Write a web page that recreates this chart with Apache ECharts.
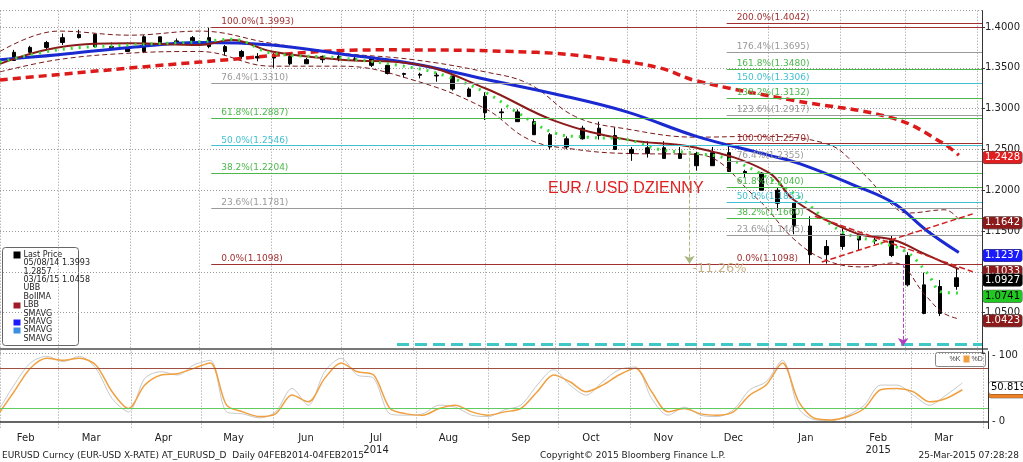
<!DOCTYPE html>
<html><head><meta charset="utf-8">
<script src="https://cdn.jsdelivr.net/npm/echarts@6/dist/echarts.min.js"></script>
<style>html,body{margin:0;padding:0;background:#fff}#c{width:1023px;height:462px}</style>
</head><body><div id="c"></div>
<script>
const weeks = ['2014-02-03','2014-02-10','2014-02-17','2014-02-24','2014-03-03','2014-03-10','2014-03-17','2014-03-24','2014-03-31','2014-04-07','2014-04-14','2014-04-21','2014-04-28','2014-05-05','2014-05-12','2014-05-19','2014-05-26','2014-06-02','2014-06-09','2014-06-16','2014-06-23','2014-06-30','2014-07-07','2014-07-14','2014-07-21','2014-07-28','2014-08-04','2014-08-11','2014-08-18','2014-08-25','2014-09-01','2014-09-08','2014-09-15','2014-09-22','2014-09-29','2014-10-06','2014-10-13','2014-10-20','2014-10-27','2014-11-03','2014-11-10','2014-11-17','2014-11-24','2014-12-01','2014-12-08','2014-12-15','2014-12-22','2014-12-29','2015-01-05','2015-01-12','2015-01-19','2015-01-26','2015-02-02','2015-02-09','2015-02-16','2015-02-23','2015-03-02','2015-03-09','2015-03-16','2015-03-23'];
const closes = [1.3590,1.3690,1.3750,1.3810,1.3870,1.3910,1.3760,1.3750,1.3700,1.3880,1.3810,1.3830,1.3870,1.3760,1.3700,1.3640,1.3620,1.3640,1.3550,1.3600,1.3640,1.3600,1.3610,1.3530,1.3430,1.3420,1.3410,1.3400,1.3240,1.3150,1.2950,1.2960,1.2840,1.2680,1.2530,1.2630,1.2760,1.2670,1.2500,1.2450,1.2520,1.2390,1.2450,1.2300,1.2460,1.2230,1.2210,1.2000,1.1840,1.1560,1.1210,1.1310,1.1460,1.1390,1.1380,1.1200,1.0840,1.0490,1.0820,1.0927];
const highs = [1.3650,1.3720,1.3770,1.3830,1.3920,1.3967,1.3920,1.3810,1.3810,1.3900,1.3880,1.3860,1.3890,1.3993,1.3780,1.3720,1.3680,1.3680,1.3680,1.3620,1.3650,1.3700,1.3650,1.3620,1.3530,1.3440,1.3440,1.3440,1.3400,1.3260,1.3200,1.3000,1.2990,1.2880,1.2700,1.2660,1.2790,1.2840,1.2770,1.2530,1.2600,1.2600,1.2530,1.2470,1.2530,1.2570,1.2250,1.2220,1.2030,1.1850,1.1680,1.1390,1.1530,1.1450,1.1450,1.1440,1.1240,1.0990,1.0900,1.1050];
const lows = [1.3480,1.3590,1.3660,1.3720,1.3780,1.3860,1.3750,1.3720,1.3700,1.3680,1.3790,1.3790,1.3780,1.3740,1.3650,1.3610,1.3580,1.3500,1.3530,1.3550,1.3560,1.3580,1.3580,1.3510,1.3420,1.3380,1.3370,1.3330,1.3220,1.3140,1.2860,1.2860,1.2840,1.2680,1.2500,1.2500,1.2620,1.2620,1.2500,1.2360,1.2400,1.2400,1.2400,1.2240,1.2300,1.2240,1.2160,1.2000,1.1750,1.1460,1.1100,1.1100,1.1270,1.1260,1.1340,1.1180,1.0820,1.0480,1.0458,1.0780];
const firstOpen = 1.3550;

const blueDates = ['2014-02-04','2014-03-01','2014-04-01','2014-05-01','2014-06-01','2014-07-01','2014-08-01','2014-09-01','2014-10-01','2014-11-01','2014-12-01','2015-01-01','2015-01-15','2015-02-07','2015-02-24','2015-03-10','2015-03-24'];
const blueVals = [1.360,1.366,1.375,1.381,1.378,1.367,1.355,1.336,1.318,1.296,1.266,1.243,1.232,1.206,1.184,1.151,1.1237];
const redDates = ['2014-02-04','2014-05-01','2014-07-17','2014-09-23','2014-10-20','2014-11-15','2014-12-01','2015-01-12','2015-02-24','2015-03-17','2015-03-24'];
const redVals = [1.335,1.357,1.372,1.369,1.362,1.350,1.334,1.310,1.288,1.258,1.2428];
const bollDates = ['2014-02-04','2014-03-01','2014-04-01','2014-05-01','2014-05-15','2014-06-01','2014-07-01','2014-08-01','2014-09-01','2014-10-01','2014-11-01','2014-12-01','2015-01-01','2015-01-12','2015-02-07','2015-02-24','2015-03-10','2015-03-24'];
const bollVals = [1.355,1.375,1.380,1.378,1.384,1.370,1.360,1.355,1.325,1.285,1.262,1.252,1.222,1.188,1.148,1.139,1.121,1.1033];
const ubbDates = ['2014-02-04','2014-03-01','2014-04-01','2014-05-01','2014-06-01','2014-07-01','2014-08-01','2014-09-01','2014-09-20','2014-10-10','2014-11-01','2014-12-01','2014-12-27','2015-01-26','2015-02-11','2015-02-24','2015-03-02','2015-03-18','2015-03-24'];
const ubbVals = [1.370,1.395,1.390,1.395,1.380,1.368,1.360,1.345,1.330,1.290,1.275,1.265,1.266,1.257,1.220,1.180,1.172,1.176,1.1642];
const lbbDates = ['2014-02-04','2014-03-01','2014-04-01','2014-05-01','2014-06-01','2014-07-01','2014-08-01','2014-09-01','2014-09-20','2014-10-10','2014-11-01','2014-12-01','2014-12-27','2015-01-12','2015-01-26','2015-02-11','2015-02-24','2015-03-10','2015-03-17','2015-03-24'];
const lbbVals = [1.345,1.360,1.368,1.370,1.352,1.352,1.335,1.300,1.262,1.250,1.245,1.244,1.190,1.140,1.114,1.106,1.111,1.070,1.050,1.0423];
const greenDates = ['2014-02-04','2014-03-01','2014-04-01','2014-05-01','2014-05-15','2014-06-01','2014-07-01','2014-08-01','2014-08-15','2014-09-01','2014-09-15','2014-10-01','2014-10-15','2014-11-01','2014-11-15','2014-12-01','2014-12-15','2015-01-01','2015-01-15','2015-02-01','2015-02-15','2015-03-01','2015-03-10','2015-03-17','2015-03-24'];
const greenVals = [1.357,1.372,1.378,1.382,1.385,1.368,1.362,1.350,1.340,1.320,1.295,1.270,1.265,1.262,1.250,1.245,1.238,1.215,1.190,1.150,1.138,1.125,1.100,1.075,1.0741];

const stochD = [10,45,80,95,92,95,85,45,20,55,70,72,80,88,25,15,8,12,40,30,65,88,75,70,20,12,10,20,25,15,10,15,20,45,70,60,45,55,70,80,45,15,20,12,10,15,40,55,88,30,5,3,8,20,48,50,45,30,35,48];
const stochK = [15,55,88,98,90,98,80,35,15,65,75,70,85,92,15,12,6,15,50,25,75,95,70,65,12,10,12,25,22,10,8,18,25,55,78,55,40,60,78,82,35,10,22,10,8,18,48,60,92,20,3,2,10,25,55,55,40,25,40,58];
const stochDates = weeks;

const fibLeft = [[100,1.3993,'#a03030'],[76.4,1.3310,'#9a9a9a'],[61.8,1.2887,'#4cb84c'],[50.0,1.2546,'#40c0d0'],[38.2,1.2204,'#4cb84c'],[23.6,1.1781,'#9a9a9a'],[0.0,1.1098,'#a03030']];
const fibRight = [[200,1.4042,'#a03030'],[176.4,1.3695,'#9a9a9a'],[161.8,1.3480,'#4cb84c'],[150.0,1.3306,'#40c0d0'],[138.2,1.3132,'#4cb84c'],[123.6,1.2917,'#9a9a9a'],[100.0,1.2570,'#a03030'],[76.4,1.2355,'#9a9a9a'],[61.8,1.2040,'#4cb84c'],[50.0,1.1853,'#40c0d0'],[38.2,1.1660,'#4cb84c'],[23.6,1.1445,'#9a9a9a'],[0.0,1.1098,'#a03030']];
const fibLeftStart = '2014-05-06', fibRightStart = '2014-12-14', xEnd = '2015-04-03';
const rightTags = [[1.2428,'#e02020','#fff'],[1.1642,'#8b1a1a','#fff'],[1.1237,'#1a1aff','#fff'],[1.0423,'#8b1a1a','#fff'],[1.0856,'#3b8fe0','#fff'],[1.0741,'#22c822','#000'],[1.1033,'#8b1a1a','#fff'],[1.0927,'#000','#fff']];
const stochTags = [[45.0,'#f08020','#000'],[50.8191,'#fff','#000']];

const z = (a,b)=>a.map((d,i)=>[d,b[i]]);
const candles = weeks.map((d,i)=>[i===0?firstOpen:closes[i-1],closes[i],lows[i],highs[i]]);

function fibLines(set,start){
  return set.map(f=>[{coord:[start,f[1]],lineStyle:{color:f[2]},label:{formatter:f[0].toFixed(1)+'%('+f[1].toFixed(4)+')',color:f[2]}},{coord:[xEnd,f[1]]}]);
}
function tagLines(tags){
  return tags.map(t=>({yAxis:t[0],lineStyle:{color:'rgba(0,0,0,0)',width:0},label:{show:true,position:'end',formatter:t[0].toFixed(4),backgroundColor:t[1],borderColor:'#444',borderWidth:0.5,borderRadius:2,color:t[2],fontSize:10,padding:[1,2],distance:1}}));
}
const months=['Jan','Feb','Mar','Apr','May','Jun','Jul','Aug','Sep','Oct','Nov','Dec'];
const chart = echarts.init(document.getElementById('c'));
const fontF = 'DejaVu Sans, Verdana, sans-serif';
chart.setOption({
  animation:false,
  backgroundColor:'#fff',
  textStyle:{fontFamily:fontF},
  grid:[{left:0,right:35,top:10.7,height:342.7},{left:0,right:35,top:351.6,height:77}],
  xAxis:[
    {type:'time',gridIndex:0,min:'2014-02-04',max:xEnd,minInterval:27*864e5,maxInterval:32*864e5,axisLabel:{show:false},axisTick:{show:false},axisLine:{show:false},splitLine:{show:true,lineStyle:{color:'#999',type:[1,2]}}},
    {type:'time',gridIndex:1,min:'2014-02-04',max:xEnd,minInterval:27*864e5,maxInterval:32*864e5,axisLabel:{show:false},axisTick:{show:false},axisLine:{show:true,lineStyle:{color:'#333',width:1.5}},splitLine:{show:true,lineStyle:{color:'#999',type:[1,2]}}},
    {type:'time',gridIndex:1,min:'2014-01-21',max:'2015-03-20',minInterval:27*864e5,maxInterval:32*864e5,position:'bottom',axisLine:{show:false},axisTick:{show:false},splitLine:{show:false},
     axisLabel:{fontSize:10,color:'#222',margin:4,lineHeight:12,formatter:v=>{const d=new Date(v);const m=months[d.getMonth()];if(d.getMonth()===6&&d.getFullYear()===2014)return m+'\n2014';if(d.getMonth()===1&&d.getFullYear()===2015)return m+'\n2015';return m;}}}
  ],
  yAxis:[
    {type:'value',gridIndex:0,position:'right',min:1.0,max:1.42,interval:0.05,axisLine:{show:true,lineStyle:{color:'#333'}},axisTick:{show:true,length:3},splitLine:{show:true,lineStyle:{color:'#999',type:[1,2]}},
     axisLabel:{fontSize:10,color:'#222',margin:3,showMaxLabel:false,formatter:v=>v<1.04?'':v.toFixed(4)}},
    {type:'value',gridIndex:1,position:'right',min:-10,max:105,interval:10,axisLine:{show:true,lineStyle:{color:'#333'}},axisTick:{show:false},splitLine:{show:false},
     axisLabel:{fontSize:10,color:'#222',margin:4,formatter:v=>(Math.abs(v)<1e-6||Math.abs(v-50)<1e-6||Math.abs(v-100)<1e-6)?'- '+Math.round(v):''}}
  ],
  series:[
    {type:'line',name:'fibs',xAxisIndex:0,yAxisIndex:0,data:[],markLine:{silent:true,symbol:'none',lineStyle:{width:1.2,type:'solid'},label:{position:'insideStartTop',fontSize:9,distance:[10,1]},data:fibLines(fibLeft,fibLeftStart).concat(fibLines(fibRight,fibRightStart))}},
    {type:'line',name:'UBB',data:z(ubbDates,ubbVals),smooth:0.4,symbol:'none',lineStyle:{color:'#7a1a1a',width:1,type:[5,3]}},
    {type:'line',name:'LBB',data:z(lbbDates,lbbVals),smooth:0.4,symbol:'none',lineStyle:{color:'#7a1a1a',width:1,type:[5,3]}},
    {type:'line',name:'SMAVG200',data:z(redDates,redVals),smooth:0.4,symbol:'none',lineStyle:{color:'#dd1a1a',width:3.5,type:[8,5]}},
    {type:'line',name:'SMAVG100',data:z(blueDates,blueVals),smooth:0.4,symbol:'none',lineStyle:{color:'#1a2ad0',width:3}},
    {type:'line',name:'BollMA',data:z(bollDates,bollVals),smooth:0.4,symbol:'none',lineStyle:{color:'#8b1a1a',width:2}},
    {type:'line',name:'SMAVG10',data:z(greenDates,greenVals),smooth:0.4,symbol:'none',lineStyle:{color:'#33dd33',width:3,type:[2,6]}},
    {type:'candlestick',name:'Last Price',data:weeks.map((d,i)=>[d].concat(candles[i])),barMaxWidth:4,itemStyle:{color:'#000',color0:'#000',borderColor:'#000',borderColor0:'#000',borderWidth:1}},
    {type:'line',name:'annot',data:[],markLine:{silent:true,symbol:'none',label:{show:false},data:[
      [{coord:['2015-01-24',1.112],lineStyle:{color:'#d02020',width:1.5}},{coord:['2015-03-30',1.171]}],
      [{coord:['2015-01-21',1.168],lineStyle:{color:'#d02020',width:1.5}},{coord:['2015-03-30',1.100]}],
      [{coord:['2014-07-25',1.0115],lineStyle:{color:'#40c8c8',width:3}},{coord:[xEnd,1.0115]}],
      [{coord:['2014-11-28',1.2546],symbol:'none',symbolSize:8,lineStyle:{color:'#a8b880',width:1}},{coord:['2014-11-28',1.1098],symbol:'arrow',symbolSize:8,label:{show:true,position:'end',formatter:'-11.26%',color:'#c8b48a',fontSize:13,distance:-2,padding:[0,0,0,60]}}],
      [{coord:['2015-02-28',1.1098],symbol:'none',lineStyle:{color:'#b040c0',width:1}},{coord:['2015-02-28',1.009],symbol:'arrow',symbolSize:8}]
    ]}},
    {type:'line',name:'tags',data:[[xEnd,null]],markLine:{silent:true,symbol:'none',data:tagLines(rightTags)}},
    {type:'line',name:'%K',xAxisIndex:1,yAxisIndex:1,data:z(stochDates,stochK),smooth:0.3,symbol:'none',lineStyle:{color:'#c8c8c8',width:1}},
    {type:'line',name:'%D',xAxisIndex:1,yAxisIndex:1,data:z(stochDates,stochD),smooth:0.3,symbol:'none',lineStyle:{color:'#f0a040',width:1.5},
     markLine:{silent:true,symbol:'none',label:{show:false},data:[{yAxis:80,lineStyle:{color:'#a05040',width:1,type:'solid'}},{yAxis:20,lineStyle:{color:'#60cc60',width:1,type:'solid'}}]}},
    {type:'line',name:'stags',xAxisIndex:1,yAxisIndex:1,data:[[xEnd,null]],markLine:{silent:true,symbol:'none',data:tagLines(stochTags)}}
  ],
  graphic:[
    {type:'rect',shape:{x:0,y:348,width:988,height:2},style:{fill:'#777'}},
    {type:'text',left:548,top:181,style:{text:'EUR / USD DZIENNY',fill:'#e02020',font:'16px Arial, Liberation Sans, sans-serif'}},
    {type:'group',left:2,top:247,children:[
      {type:'rect',shape:{x:0,y:0,width:76,height:98,r:3},style:{fill:'#fff',stroke:'#666'}},
      {type:'rect',shape:{x:11,y:4,width:7,height:7},style:{fill:'#000'}},
      {type:'text',x:21,y:3,style:{text:'Last Price\n05/08/14 1.3993\n1.2857\n03/16/15 1.0458\nUBB\nBoIIMA\nLBB\nSMAVG\nSMAVG\nSMAVG\nSMAVG',font:'8px DejaVu Sans, sans-serif',fill:'#222',lineHeight:8.4}},
      {type:'rect',shape:{x:11,y:55,width:7,height:6},style:{fill:'#a01a2a'}},
      {type:'rect',shape:{x:11,y:72,width:7,height:6},style:{fill:'#1a1aff'}},
      {type:'rect',shape:{x:11,y:80,width:7,height:6},style:{fill:'#3b8fe0'}}
    ]},
    {type:'group',left:935,top:352,children:[
      {type:'rect',shape:{x:0,y:0,width:50,height:14,r:2},style:{fill:'#fff',stroke:'#888'}},
      {type:'text',x:14,y:3,style:{text:'%K',font:'7px sans-serif',fill:'#444'}},
      {type:'rect',shape:{x:28,y:3,width:6,height:7},style:{fill:'#f0a040'}},
      {type:'text',x:36,y:3,style:{text:'%D',font:'7px sans-serif',fill:'#444'}}
    ]},
    {type:'text',left:2,top:451,style:{text:'EURUSD Curncy (EUR-USD X-RATE) AT_EURUSD_D  Daily 04FEB2014-04FEB2015',font:'9px DejaVu Sans, sans-serif',fill:'#222'}},
    {type:'text',left:540,top:451,style:{text:'Copyright\u00a9 2015 Bloomberg Finance L.P.',font:'9px DejaVu Sans, sans-serif',fill:'#222'}},
    {type:'text',right:4,top:451,style:{text:'25-Mar-2015 07:28:28',font:'9px DejaVu Sans, sans-serif',fill:'#222'}}
  ]
});
</script></body></html>
